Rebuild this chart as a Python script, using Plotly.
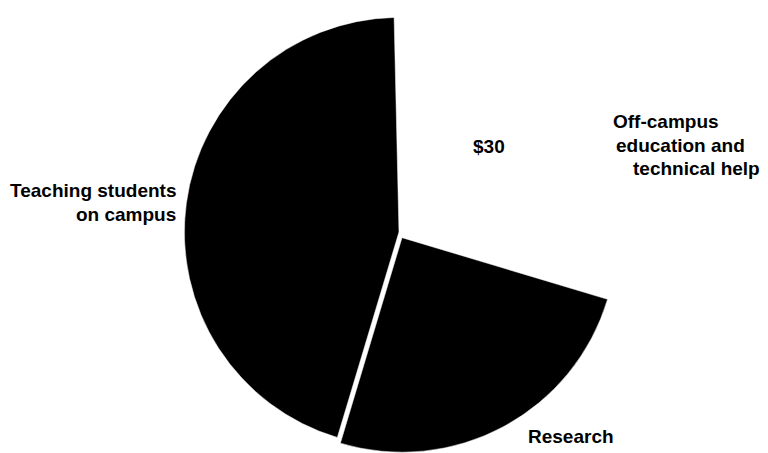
import plotly.graph_objects as go

# Where each dollar goes (cents per dollar of funding)
categories = ["Off-campus education and technical help", "Research", "Teaching students on campus"]
values = [30, 25, 45]
slice_colors = ["#ffffff", "#000000", "#000000"]
pull = [0, 0.03, 0]

# Label text, one entry per printed line
offcampus_lines = ["Off-campus", "education and", "technical help"]
teaching_lines = ["Teaching students", "on campus"]
research_label = "Research"
value_label = "$" + str(values[0])

W, H = 768, 453
FONT = dict(family="Liberation Sans, Arial, Helvetica, sans-serif", size=19, color="#000000")

fig = go.Figure(
    go.Pie(
        labels=categories,
        values=values,
        sort=False,
        direction="clockwise",
        rotation=-1.3,
        pull=pull,
        marker=dict(colors=slice_colors, line=dict(color="#ffffff", width=0.5)),
        textinfo="none",
        hoverinfo="label+value",
        showlegend=False,
        domain=dict(x=[0.2195, 0.8195], y=[0.0, 0.9758]),
    )
)


def px_x(x):
    return x / W


def px_y(y):
    return 1 - y / H


annotations = []

# "Teaching students / on campus" – right aligned block
for i, line in enumerate(teaching_lines):
    annotations.append(dict(
        x=px_x(178), y=px_y(191 + 23 * i), xref="paper", yref="paper",
        text="<b>" + line + "</b>", showarrow=False,
        xanchor="right", yanchor="middle", font=FONT,
    ))

# Off-campus label, staggered lines
for line, x0, yb in zip(offcampus_lines, [611, 614, 631], [121, 145, 168]):
    annotations.append(dict(
        x=px_x(x0), y=px_y(yb), xref="paper", yref="paper",
        text="<b>" + line + "</b>", showarrow=False,
        xanchor="left", yanchor="middle", font=FONT,
    ))

# Dollar value inside the white slice
annotations.append(dict(
    x=px_x(471), y=px_y(146), xref="paper", yref="paper",
    text="<b>" + value_label + "</b>", showarrow=False,
    xanchor="left", yanchor="middle", font=FONT,
))

# Research label
annotations.append(dict(
    x=px_x(526), y=px_y(436), xref="paper", yref="paper",
    text="<b>" + research_label + "</b>", showarrow=False,
    xanchor="left", yanchor="middle", font=FONT,
))

fig.update_layout(
    width=W, height=H,
    margin=dict(l=0, r=0, t=0, b=0),
    paper_bgcolor="#ffffff",
    plot_bgcolor="#ffffff",
    annotations=annotations,
)

fig.write_html("out.html")
